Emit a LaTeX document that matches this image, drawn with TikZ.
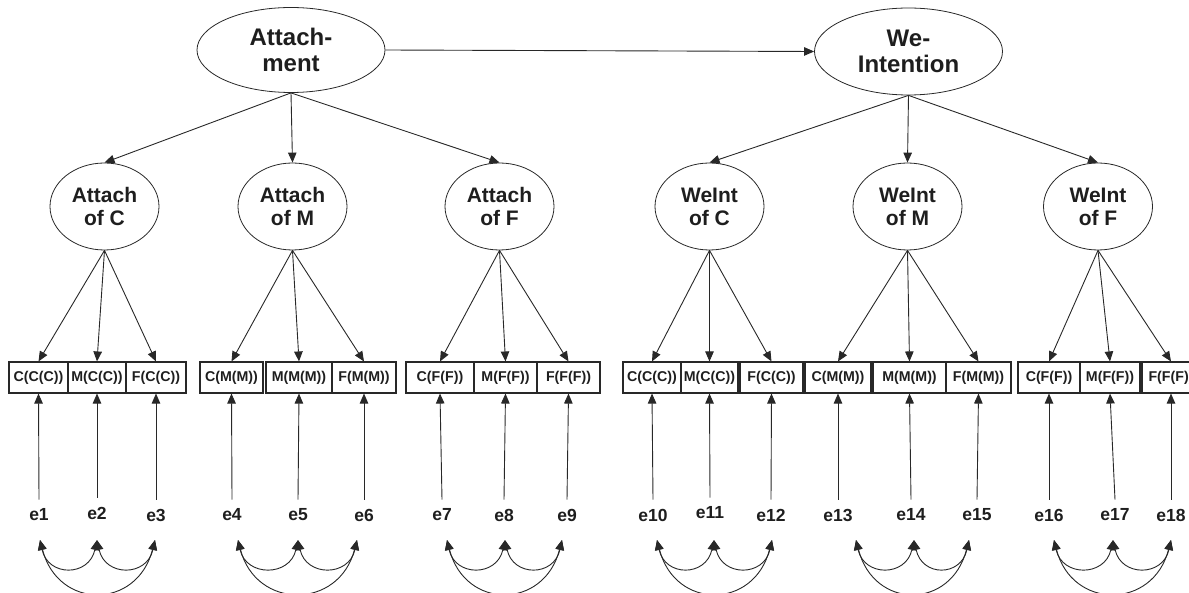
\documentclass[tikz,border=0pt]{standalone}
\usepackage{fontspec}
\setmainfont{Liberation Sans}
\usepackage{tikz}
\usetikzlibrary{shapes.geometric,arrows.meta}
\definecolor{linegray}{RGB}{40, 40, 40}
\definecolor{textdark}{RGB}{30, 30, 30}
\newcommand{\toplatentfont}{\fontsize{24}{25.5}\selectfont\bfseries}
\newcommand{\sublatentfont}{\fontsize{21}{23}\selectfont\bfseries}
\newcommand{\itemfont}{\fontsize{14.2}{15}\selectfont\bfseries}
\newcommand{\errfont}{\fontsize{17.5}{19}\selectfont\bfseries}

\begin{document}
\begin{tikzpicture}[
        x=1pt, y=-1pt,
        toplatent/.style={ellipse, draw=linegray, line width=0.8pt, inner sep=0pt, minimum width=188pt, minimum height=85pt, align=center, font=\toplatentfont, text=textdark},
        sublatent/.style={ellipse, draw=linegray, line width=0.8pt, inner sep=0pt, minimum width=109pt, minimum height=87pt, align=center, font=\sublatentfont, text=textdark},
        indicator/.style={rectangle, draw=linegray, line width=1.1pt, inner sep=0pt, minimum height=31pt, font=\itemfont, text=textdark},
        errlabel/.style={inner xsep=0pt, inner ysep=9pt, font=\errfont, text=textdark},
        path/.style={-{Triangle[length=10pt,width=8.5pt]}, line width=0.9pt, color=linegray},
        cov/.style={{Triangle[length=10pt,width=8.5pt]}-{Triangle[length=10pt,width=8.5pt]}, line width=0.9pt, color=linegray}
    ]
    \useasboundingbox (0,0) rectangle (1189,593);

    % Second-order latent variables
    \node[toplatent] (attach) at (291, 50) {Attach-\\ment};
    \node[toplatent, minimum height=87pt] (weint) at (908.5, 51.5) {We-\\Intention};

    % First-order latent variables
    \node[sublatent] (attC) at (104.5, 206.5) {Attach\\of C};
    \node[sublatent] (attM) at (292.5, 206.5) {Attach\\of M};
    \node[sublatent] (attF) at (499.5, 206.5) {Attach\\of F};
    \node[sublatent] (weC) at (709.5, 206.5) {WeInt\\of C};
    \node[sublatent] (weM) at (907.5, 206.5) {WeInt\\of M};
    \node[sublatent] (weF) at (1098, 206.5) {WeInt\\of F};

    % Observed indicators
    \node[indicator, minimum width=59pt] (b1) at (38.5, 377.5) {C(C(C))};
    \node[indicator, minimum width=58pt] (b2) at (97, 377.5) {M(C(C))};
    \node[indicator, minimum width=60pt] (b3) at (156, 377.5) {F(C(C))};
    \node[indicator, minimum width=63pt] (b4) at (231.5, 377.5) {C(M(M))};
    \node[indicator, minimum width=66pt] (b5) at (299, 377.5) {M(M(M))};
    \node[indicator, minimum width=64pt] (b6) at (364, 377.5) {F(M(M))};
    \node[indicator, minimum width=68pt] (b7) at (440, 377.5) {C(F(F))};
    \node[indicator, minimum width=63pt] (b8) at (505.5, 377.5) {M(F(F))};
    \node[indicator, minimum width=63pt] (b9) at (568.5, 377.5) {F(F(F))};
    \node[indicator, minimum width=58pt] (b10) at (652, 377.5) {C(C(C))};
    \node[indicator, minimum width=57pt] (b11) at (709.5, 377.5) {M(C(C))};
    \node[indicator, minimum width=63pt] (b12) at (771.5, 377.5) {F(C(C))};
    \node[indicator, minimum width=66pt] (b13) at (838, 377.5) {C(M(M))};
    \node[indicator, minimum width=73pt] (b14) at (909.5, 377.5) {M(M(M))};
    \node[indicator, minimum width=65pt] (b15) at (978.5, 377.5) {F(M(M))};
    \node[indicator, minimum width=62pt] (b16) at (1049, 377.5) {C(F(F))};
    \node[indicator, minimum width=60pt] (b17) at (1110, 377.5) {M(F(F))};
    \node[indicator, minimum width=58pt] (b18) at (1171, 377.5) {F(F(F))};

    % Error terms
    \node[errlabel] (e1) at (39, 515) {e1};
    \node[errlabel] (e2) at (97, 513) {e2};
    \node[errlabel] (e3) at (156, 515) {e3};
    \node[errlabel] (e4) at (232, 515) {e4};
    \node[errlabel] (e5) at (298, 515) {e5};
    \node[errlabel] (e6) at (364, 515) {e6};
    \node[errlabel] (e7) at (442, 515) {e7};
    \node[errlabel] (e8) at (504, 515) {e8};
    \node[errlabel] (e9) at (567, 515) {e9};
    \node[errlabel] (e10) at (653, 515) {e10};
    \node[errlabel] (e11) at (710, 513) {e11};
    \node[errlabel] (e12) at (771, 515) {e12};
    \node[errlabel] (e13) at (838, 515) {e13};
    \node[errlabel] (e14) at (911, 515) {e14};
    \node[errlabel] (e15) at (977, 515) {e15};
    \node[errlabel] (e16) at (1049, 515) {e16};
    \node[errlabel] (e17) at (1115, 515) {e17};
    \node[errlabel] (e18) at (1171, 515) {e18};

    % Ends of the covariance arcs
    \coordinate (a1) at (40, 540);
    \coordinate (a2) at (97, 540);
    \coordinate (a3) at (155, 540);
    \coordinate (a4) at (238, 540);
    \coordinate (a5) at (298, 540);
    \coordinate (a6) at (357, 540);
    \coordinate (a7) at (447, 540);
    \coordinate (a8) at (505, 540);
    \coordinate (a9) at (562, 540);
    \coordinate (a10) at (657, 540);
    \coordinate (a11) at (714, 540);
    \coordinate (a12) at (772, 540);
    \coordinate (a13) at (856, 540);
    \coordinate (a14) at (914, 540);
    \coordinate (a15) at (969, 540);
    \coordinate (a16) at (1054, 540);
    \coordinate (a17) at (1113, 540);
    \coordinate (a18) at (1171, 540);

    % Structural paths
    \draw[path] (attach.east) -- (weint.west);
    \draw[path] (attach.south) -- (attC.north);
    \draw[path] (attach.south) -- (attM.north);
    \draw[path] (attach.south) -- (attF.north);
    \draw[path] (weint.south) -- (weC.north);
    \draw[path] (weint.south) -- (weM.north);
    \draw[path] (weint.south) -- (weF.north);

    % Loadings
    \draw[path] (attC.south) -- (b1.north);
    \draw[path] (attC.south) -- (b2.north);
    \draw[path] (attC.south) -- (b3.north);
    \draw[path] (attM.south) -- (b4.north);
    \draw[path] (attM.south) -- (b5.north);
    \draw[path] (attM.south) -- (b6.north);
    \draw[path] (attF.south) -- (b7.north);
    \draw[path] (attF.south) -- (b8.north);
    \draw[path] (attF.south) -- (b9.north);
    \draw[path] (weC.south) -- (b10.north);
    \draw[path] (weC.south) -- (b11.north);
    \draw[path] (weC.south) -- (b12.north);
    \draw[path] (weM.south) -- (b13.north);
    \draw[path] (weM.south) -- (b14.north);
    \draw[path] (weM.south) -- (b15.north);
    \draw[path] (weF.south) -- (b16.north);
    \draw[path] (weF.south) -- (b17.north);
    \draw[path] (weF.south) -- (b18.north);

    % Errors to indicators
    \draw[path] (e1.north) -- (b1.south);
    \draw[path] (e2.north) -- (b2.south);
    \draw[path] (e3.north) -- (b3.south);
    \draw[path] (e4.north) -- (b4.south);
    \draw[path] (e5.north) -- (b5.south);
    \draw[path] (e6.north) -- (b6.south);
    \draw[path] (e7.north) -- (b7.south);
    \draw[path] (e8.north) -- (b8.south);
    \draw[path] (e9.north) -- (b9.south);
    \draw[path] (e10.north) -- (b10.south);
    \draw[path] (e11.north) -- (b11.south);
    \draw[path] (e12.north) -- (b12.south);
    \draw[path] (e13.north) -- (b13.south);
    \draw[path] (e14.north) -- (b14.south);
    \draw[path] (e15.north) -- (b15.south);
    \draw[path] (e16.north) -- (b16.south);
    \draw[path] (e17.north) -- (b17.south);
    \draw[path] (e18.north) -- (b18.south);

    % Correlated errors
    \draw[cov] (a1) .. controls +(8,37) and +(-8,37) .. (a2);
    \draw[cov] (a2) .. controls +(8,37) and +(-8,37) .. (a3);
    \draw[cov] (a1) .. controls +(18,70) and +(-18,70) .. (a3);
    \draw[cov] (a4) .. controls +(8,37) and +(-8,37) .. (a5);
    \draw[cov] (a5) .. controls +(8,37) and +(-8,37) .. (a6);
    \draw[cov] (a4) .. controls +(18,70) and +(-18,70) .. (a6);
    \draw[cov] (a7) .. controls +(8,37) and +(-8,37) .. (a8);
    \draw[cov] (a8) .. controls +(8,37) and +(-8,37) .. (a9);
    \draw[cov] (a7) .. controls +(18,70) and +(-18,70) .. (a9);
    \draw[cov] (a10) .. controls +(8,37) and +(-8,37) .. (a11);
    \draw[cov] (a11) .. controls +(8,37) and +(-8,37) .. (a12);
    \draw[cov] (a10) .. controls +(18,70) and +(-18,70) .. (a12);
    \draw[cov] (a13) .. controls +(8,37) and +(-8,37) .. (a14);
    \draw[cov] (a14) .. controls +(8,37) and +(-8,37) .. (a15);
    \draw[cov] (a13) .. controls +(18,70) and +(-18,70) .. (a15);
    \draw[cov] (a16) .. controls +(8,37) and +(-8,37) .. (a17);
    \draw[cov] (a17) .. controls +(8,37) and +(-8,37) .. (a18);
    \draw[cov] (a16) .. controls +(18,70) and +(-18,70) .. (a18);

\end{tikzpicture}
\end{document}
